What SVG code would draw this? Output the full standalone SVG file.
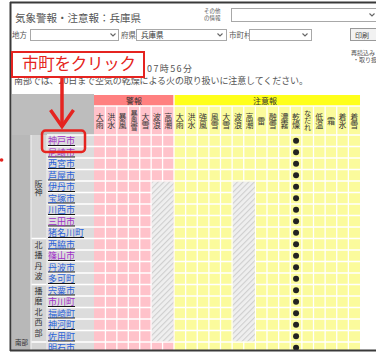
<svg xmlns="http://www.w3.org/2000/svg" width="376" height="356" viewBox="0 0 376 356">
<style>
.t{font-family:"Noto Sans CJK JP","Noto Sans CJK SC",sans-serif}
.g{fill:#555}
.hd{font-size:8px;fill:#333;text-anchor:middle}
.vt{font-family:"Noto Sans CJK JP","Noto Sans CJK SC",sans-serif;font-size:8px;fill:#333;text-anchor:middle;writing-mode:vertical-rl;text-orientation:upright}
.v3{font-size:7.2px}
.nm{font-size:9px;text-decoration:underline}
.b{fill:#2a62d8}
.v{fill:#a030c8}
.grp{font-size:8px;fill:#333;text-anchor:middle}
.wl{stroke:#fff;stroke-width:1.3}
.sel{fill:#fff;stroke:#a8a8a8;stroke-width:1}
.dd{fill:none;stroke:#666;stroke-width:1.1}
</style>
<defs>
<pattern id="hatch" width="4" height="4" patternUnits="userSpaceOnUse" patternTransform="rotate(45)">
<rect width="4" height="4" fill="#efefef"/><rect width="1.1" height="4" fill="#cfcfcf"/>
</pattern>
<circle id="dot" r="3" fill="#222"/>
<marker id="chev" viewBox="-20 -14 22 28" refX="0" refY="0" markerWidth="22" markerHeight="28" markerUnits="userSpaceOnUse" orient="auto" overflow="visible">
<path d="M-16.5,-11.5 L0,0 L-16.5,11.5" fill="none" stroke="#e52420" stroke-width="3.5"/>
</marker>
</defs>
<rect width="376" height="356" fill="#fff"/>

<g id="header-area">
<text class="t g" x="15" y="22" font-size="10.5">気象警報・注意報：兵庫県</text>
<text class="t g" x="204" y="13" font-size="5.5">その他</text>
<text class="t g" x="204" y="20" font-size="5.5">の情報</text>
<rect class="sel" x="231.5" y="8.5" width="150" height="13"/>
<path class="dd" d="M369.5,13.5 l2.5,2.5 l2.5,-2.5"/>
<text class="t g" x="12" y="38" font-size="7.5">地方</text>
<rect class="sel" x="30.5" y="29.5" width="88" height="11"/>
<path class="dd" d="M110.5,33.5 l2.5,2.5 l2.5,-2.5"/>
<text class="t g" x="121" y="38" font-size="7.5">府県</text>
<rect class="sel" x="136.5" y="29.5" width="90" height="11"/>
<text class="t" x="141" y="38" font-size="7.5" fill="#333">兵庫県</text>
<path class="dd" d="M217.5,33.5 l2.5,2.5 l2.5,-2.5"/>
<text class="t g" x="229" y="38" font-size="7.5">市町村</text>
<rect class="sel" x="249.5" y="29.5" width="62" height="11"/>
<path class="dd" d="M302.5,33.5 l2.5,2.5 l2.5,-2.5"/>
<rect x="350.5" y="28.5" width="30" height="12" fill="#f2f2f2" stroke="#999"/>
<text class="t" x="355" y="37.5" font-size="7" fill="#444">印刷</text>
<text class="t g" x="351" y="54.5" font-size="6">再読込み</text>
<text class="t g" x="353" y="62" font-size="6">・取り扱</text>
<text class="t g" x="147" y="72" font-size="9" textLength="45">07時56分</text>
<text class="t g" x="14" y="84" font-size="9" textLength="294" lengthAdjust="spacing">南部では、20日まで空気の乾燥による火の取り扱いに注意してください。</text>
</g>

<g id="table">
<rect x="12" y="94" width="82" height="41" fill="#bdbdbd"/>
<rect x="12" y="135" width="19" height="219" fill="#b8b8b8"/>
<rect x="31" y="135" width="16" height="219" fill="#d5d5d5"/>
<rect x="47" y="135" width="47" height="219" fill="#dcdcdc"/>
<rect x="94" y="95" width="80" height="11" fill="#ff8080"/>
<rect x="174" y="95" width="186" height="11" fill="#ffff1a"/>
<rect x="94" y="106" width="80" height="248" fill="#ffc2ca"/>
<rect x="174" y="106" width="186" height="248" fill="#fbfb9c"/>
<text class="t hd" x="134" y="103.5">警報</text>
<text class="t hd" x="265" y="103.5">注意報</text>
<g class="wl">
<path d="M174,95V354"/>
<path d="M94,106H360"/>
<path d="M105.43,106V354M116.86,106V354M128.29,106V354M139.71,106V354M151.14,106V354M162.57,106V354"/>
<path d="M185.63,106V354M197.25,106V354M208.88,106V354M220.5,106V354M232.13,106V354M243.75,106V354M255.38,106V354M267,106V354M278.63,106V354M290.25,106V354M301.88,106V354M313.5,106V354M325.13,106V354M336.75,106V354M348.38,106V354"/>
<path d="M47,135H360M47,146.5H360M47,158H360M47,169.5H360M47,181H360M47,192.5H360M47,204H360M47,215.5H360M47,227H360M47,238.5H360M47,250H360M47,261.5H360M47,273H360M47,284.5H360M47,296H360M47,307.5H360M47,319H360M47,330.5H360M47,342H360"/>
<path d="M31,238.5H47M31,284.5H47M31,342H47"/>
<path d="M31,135V354M47,135V354" stroke="#ececec"/>
</g>
<rect x="151.8" y="181.7" width="21.6" height="159.6" fill="url(#hatch)"/>
<rect x="232.8" y="181.7" width="22" height="159.6" fill="url(#hatch)"/>

<g id="column-heads">
<text class="vt" x="99.71" y="120.5">大雨</text>
<text class="vt" x="111.14" y="120.5">洪水</text>
<text class="vt" x="122.57" y="120.5">暴風</text>
<text class="vt v3" x="134" y="120.5">暴風雪</text>
<text class="vt" x="145.43" y="120.5">大雪</text>
<text class="vt" x="156.86" y="120.5">波浪</text>
<text class="vt" x="168.29" y="120.5">高潮</text>
<text class="vt" x="179.81" y="120.5">大雨</text>
<text class="vt" x="191.44" y="120.5">洪水</text>
<text class="vt" x="203.06" y="120.5">強風</text>
<text class="vt" x="214.69" y="120.5">風雪</text>
<text class="vt" x="226.31" y="120.5">大雪</text>
<text class="vt" x="237.94" y="120.5">波浪</text>
<text class="vt" x="249.56" y="120.5">高潮</text>
<text class="vt" x="261.19" y="120.5">雷</text>
<text class="vt" x="272.81" y="120.5">融雪</text>
<text class="vt" x="284.44" y="120.5">濃霧</text>
<text class="vt" x="296.06" y="120.5">乾燥</text>
<text class="vt v3" x="307.69" y="120.5">なだれ</text>
<text class="vt" x="319.31" y="120.5">低温</text>
<text class="vt" x="330.94" y="120.5">霜</text>
<text class="vt" x="342.56" y="120.5">着氷</text>
<text class="vt" x="354.19" y="120.5">着雪</text>
</g>

<g id="group-labels">
<text class="vt" x="38.5" y="188">阪神</text>
<text class="vt" x="38.5" y="261.5" style="letter-spacing:2.5px">北播丹波</text>
<text class="vt" x="38.5" y="313" style="letter-spacing:2.5px">播磨北西部</text>
<text class="t" x="21.5" y="345" font-size="6.5" fill="#333" text-anchor="middle">南部</text>
</g>

<g class="t nm">
<text class="v" x="48" y="144">神戸市</text>
<text class="v" x="48" y="155.5">尼崎市</text>
<text class="b" x="48" y="167">西宮市</text>
<text class="b" x="48" y="178.5">芦屋市</text>
<text class="b" x="48" y="190">伊丹市</text>
<text class="b" x="48" y="201.5">宝塚市</text>
<text class="b" x="48" y="213">川西市</text>
<text class="v" x="48" y="224.5">三田市</text>
<text class="b" x="48" y="236">猪名川町</text>
<text class="b" x="48" y="247.5">西脇市</text>
<text class="v" x="48" y="259">篠山市</text>
<text class="b" x="48" y="270.5">丹波市</text>
<text class="b" x="48" y="282">多可町</text>
<text class="b" x="48" y="293.5">宍粟市</text>
<text class="v" x="48" y="305">市川町</text>
<text class="b" x="48" y="316.5">福崎町</text>
<text class="b" x="48" y="328">神河町</text>
<text class="b" x="48" y="339.5">佐用町</text>
<text class="b" x="48" y="351">明石市</text>
</g>

<g id="dots">
<use href="#dot" x="296.06" y="140.75"/><use href="#dot" x="296.06" y="152.25"/><use href="#dot" x="296.06" y="163.75"/><use href="#dot" x="296.06" y="175.25"/><use href="#dot" x="296.06" y="186.75"/><use href="#dot" x="296.06" y="198.25"/><use href="#dot" x="296.06" y="209.75"/><use href="#dot" x="296.06" y="221.25"/><use href="#dot" x="296.06" y="232.75"/><use href="#dot" x="296.06" y="244.25"/><use href="#dot" x="296.06" y="255.75"/><use href="#dot" x="296.06" y="267.25"/><use href="#dot" x="296.06" y="278.75"/><use href="#dot" x="296.06" y="290.25"/><use href="#dot" x="296.06" y="301.75"/><use href="#dot" x="296.06" y="313.25"/><use href="#dot" x="296.06" y="324.75"/><use href="#dot" x="296.06" y="336.25"/><use href="#dot" x="296.06" y="347.75"/>
</g>
</g>

<g id="window-frame">
<rect x="0" y="351" width="376" height="5" fill="#fff"/>
<path d="M10,2.5H376M10.5,2V351M10,350.5H376" fill="none" stroke="#3a3a3a" stroke-width="2"/>
<circle cx="1.6" cy="160" r="1.8" fill="#e52420"/>
</g>

<g id="callout">
<rect x="12" y="52" width="132" height="25" fill="#fff" stroke="#e52420" stroke-width="2"/>
<text class="t" x="22" y="69.5" font-size="16.5" fill="#e52420" textLength="114">市町をクリック</text>
</g>

<g id="highlight-kobe">
<rect x="42" y="130.5" width="43" height="21.5" rx="3.5" fill="none" stroke="#e52420" stroke-width="2.5"/>
</g>

<g id="connectors">
<path d="M62,77V126.5" fill="none" stroke="#e52420" stroke-width="3.5" marker-end="url(#chev)"/>
</g>
</svg>
